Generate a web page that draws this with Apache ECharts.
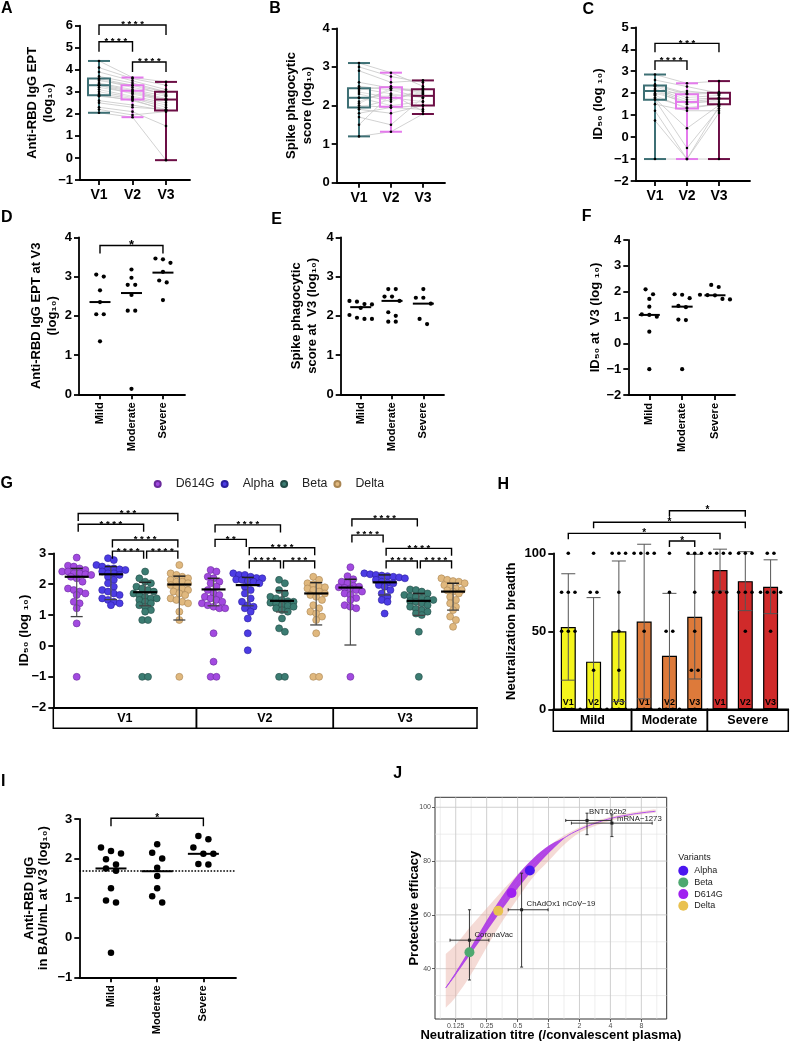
<!DOCTYPE html>
<html><head><meta charset="utf-8">
<script src="https://cdn.jsdelivr.net/npm/echarts@6/dist/echarts.min.js"></script>
<style>html,body{margin:0;padding:0;background:#fff}#c{width:790px;height:1041px}</style>
</head><body><div id="c"></div>
<script>
const FONT = '"Liberation Sans", Arial, Helvetica, sans-serif';
const f = (w, s) => w + ' ' + s + 'px ' + FONT;

// ================= DATA =================
const visitLabels = ['V1', 'V2', 'V3'];
const severityLabels = ['Mild', 'Moderate', 'Severe'];

// A: anti-RBD IgG EPT (log10), paired subjects
const rbdV1 = [4.4,4.1,3.9,3.7,3.6,3.55,3.5,3.4,3.35,3.3,3.3,3.2,3.1,3.0,2.9,2.85,2.8,2.6,2.5,2.3,2.2,2.05];
const rbdV2 = [3.65,3.6,3.5,3.4,3.3,3.2,3.3,3.1,3.05,3.0,2.9,2.95,2.8,2.75,2.7,2.6,2.65,2.4,2.3,2.1,1.95,1.85];
const rbdV3 = [3.45,3.3,3.1,3.0,3.0,2.9,2.85,2.8,2.7,2.65,2.6,2.65,2.5,2.4,2.3,2.2,2.15,2.15,2.2,1.45,2.1,-0.1];
const rbdBox = [[2.05,2.85,3.3,3.6,4.4],[1.85,2.65,3.05,3.3,3.65],[-0.1,2.15,2.65,3.0,3.45]]; // min,q1,med,q3,max
const rbdSigPairs = [[1,3],[1,2],[2,3]];
const rbdSigText = ['****','****','****'];

// B: spike phagocytic score (log10)
const phV1 = [3.1,3.0,2.9,2.6,2.5,2.45,2.4,2.35,2.3,2.2,2.2,2.1,2.0,1.95,1.9,1.8,1.7,1.5,1.2,2.05];
const phV2 = [2.85,2.75,2.6,2.45,2.4,2.3,2.5,2.2,2.1,2.25,2.0,2.4,1.95,2.15,1.8,1.95,1.5,2.3,1.32,2.45];
const phV3 = [2.5,2.6,2.65,2.35,2.4,2.2,2.3,2.1,2.45,2.3,2.1,2.2,2.0,2.35,2.0,1.9,2.2,1.85,1.78,2.4];
const phBox = [[1.2,1.95,2.2,2.45,3.1],[1.32,1.97,2.2,2.47,2.85],[1.78,2.0,2.25,2.42,2.65]];

// C: ID50 (log10)
const idV1 = [2.85,2.6,2.4,2.35,2.3,2.2,2.15,2.1,2.0,1.9,1.8,1.75,1.7,1.5,1.2,0.75,-1,1.95];
const idV2 = [2.45,2.3,2.0,1.95,1.8,1.7,1.6,1.5,1.6,1.3,1.35,0.4,-0.5,1.2,-1,-1,-1,2.1];
const idV3 = [2.55,2.0,2.05,2.0,1.9,1.8,1.75,1.7,1.6,1.5,1.5,1.45,1.3,1.2,1.1,1.4,-1,1.95];
const idBox = [[-1,1.7,2.1,2.35,2.85],[-1,1.3,1.6,1.95,2.45],[-1,1.5,1.75,2.02,2.55]];
const idSigPairs = [[1,3],[1,2]];
const idSigText = ['***','****'];

// D: anti-RBD IgG EPT at V3 by severity
const dMild = [3.05,3.0,2.65,2.35,2.04,2.04,1.35];
const dModerate = [3.18,2.97,2.79,2.79,2.53,2.13,2.13,0.14];
const dSevere = [3.46,3.44,3.35,3.12,2.9,2.85,2.4];
const dMedian = [2.35,2.58,3.1];
const dSigPairs = [[1,3]];
const dSigText = ['*'];

// E: spike phagocytic score at V3
const eMild = [2.38,2.36,2.3,2.29,2.2,2.02,1.95,1.92,1.92];
const eModerate = [2.68,2.68,2.49,2.49,2.38,2.09,2.0,1.85,1.85];
const eSevere = [2.68,2.46,2.46,2.31,1.92,1.79];
const eMedian = [2.22,2.38,2.31];

// F: ID50 at V3
const fMild = [2.09,1.9,1.72,1.42,1.12,1.1,1.03,0.45,-1];
const fModerate = [1.9,1.88,1.75,1.45,1.4,0.92,0.9,-1];
const fSevere = [2.26,2.18,1.88,1.87,1.86,1.72,1.7];
const fMedian = [1.1,1.42,1.86];

// G: ID50 per variant per visit  ([V1],[V2],[V3])
const gVariants = ['D614G','Alpha','Beta','Delta'];
const gD614G = [
 [2.86,2.6,2.57,2.51,2.46,2.41,2.41,2.35,2.35,2.32,2.3,2.24,2.19,2.08,1.86,1.81,1.76,1.7,1.65,1.43,1.38,1.22,0.73,-1],
 [2.46,2.41,2.24,2.19,2.08,2.03,1.92,1.81,1.7,1.65,1.59,1.54,1.49,1.43,1.38,1.32,1.27,1.22,1.22,0.41,-0.51,-1,-1],
 [2.55,2.26,2.16,2.08,2.03,1.95,1.92,1.9,1.88,1.86,1.81,1.76,1.7,1.65,1.55,1.49,1.32,1.27,1.22,-1]];
const gAlpha = [
 [2.84,2.78,2.62,2.57,2.51,2.51,2.48,2.46,2.41,2.35,2.35,2.3,2.24,2.14,2.03,1.92,1.81,1.76,1.7,1.65,1.54,1.49,1.43,1.38,1.32],
 [2.35,2.3,2.3,2.24,2.2,2.19,2.15,2.14,2.1,2.08,2.03,1.92,1.81,1.7,1.54,1.43,1.32,1.27,1.22,1.11,0.89,0.41,-0.14],
 [2.35,2.32,2.3,2.28,2.26,2.24,2.22,2.19,2.14,2.08,2.05,2.03,1.97,1.92,1.81,1.7,1.59,1.49,1.43,1.05]];
const gBeta = [
 [2.41,2.19,2.08,2.03,1.92,1.86,1.81,1.76,1.7,1.65,1.59,1.54,1.54,1.49,1.43,1.38,1.32,1.27,1.16,1.11,0.84,0.84,-1,-1],
 [2.14,2.03,1.81,1.7,1.59,1.54,1.49,1.45,1.43,1.4,1.38,1.32,1.3,1.27,1.22,1.16,1.11,0.89,0.57,0.46,-1,-1],
 [1.83,1.81,1.76,1.7,1.65,1.6,1.59,1.54,1.5,1.49,1.45,1.43,1.38,1.32,1.27,1.2,1.16,1.11,1.05,1.0,0.46,-1]];
const gDelta = [
 [2.62,2.35,2.3,2.24,2.19,2.14,2.08,2.08,2.03,1.97,1.92,1.86,1.81,1.76,1.7,1.65,1.54,1.49,1.43,1.38,1.11,0.84,-1],
 [2.24,2.14,2.03,2.0,1.92,1.9,1.86,1.81,1.76,1.7,1.65,1.59,1.49,1.32,1.22,1.11,1.05,0.95,0.84,0.41,-1,-1],
 [2.19,2.14,2.1,2.08,2.03,1.97,1.92,1.86,1.81,1.8,1.76,1.7,1.59,1.49,1.38,1.27,1.16,0.95,0.84,0.62]];
// per group (V1:D614G,Alpha,Beta,Delta, V2:..., V3:...)
const gMedian = [2.24,2.32,1.74,1.99, 1.83,1.97,1.46,1.7, 1.89,2.06,1.46,1.76];
const gLow    = [0.95,1.5,1.3,0.84, 1.3,1.3,1.1,0.68, 0.03,1.65,0.99,1.16];
const gHigh   = [2.51,2.57,2.06,2.26, 2.19,2.22,1.79,2.05, 2.16,2.3,1.7,2.03];
const gSigPairs = [[0,3],[0,2],[1,3],[1,2],[2,3], [4,6],[4,5],[5,7],[5,6],[6,7], [8,10],[8,9],[9,11],[9,10],[10,11]];
const gSigText  = ['***','****','****','****','****', '****','**','****','****','***', '****','****','****','****','****'];

// H: neutralization breadth per participant (Mild V1..V3, Moderate V1..V3, Severe V1..V3)
const hMildV1 = [100,75,75,75,50,50,50,0,0];
const hMildV2 = [100,75,75,25,0,0,0,0,0];
const hMildV3 = [100,100,100,75,50,25,0,0,0];
const hModV1 = [100,100,100,100,50,0,0,0];
const hModV2 = [100,75,50,50,0,0,0,0];
const hModV3 = [100,100,100,75,50,25,25,0];
const hSevV1 = [100,100,100,100,75,75,75];
const hSevV2 = [100,100,100,75,75,75,50];
const hSevV3 = [100,100,75,75,75,75,50];
const hSigPairs = [[0,6],[1,7],[4,7],[4,5]];
const hSigText = ['*','*','*','*'];

// I: anti-RBD IgG BAU/mL at V3 (log10)
const iMild = [2.28,2.19,2.13,1.98,1.85,1.75,1.69,1.25,0.94,0.89,-0.38];
const iModerate = [2.36,2.15,2.0,1.77,1.56,1.25,1.05,0.89];
const iSevere = [2.57,2.49,2.28,2.12,2.12,1.86,1.85];
const iMedian = [1.75,1.68,2.12];
const iThreshold = 1.7;
const iSigPairs = [[1,3]];
const iSigText = ['*'];

// J: protective efficacy vs neutralization titre
const jVariants = ['Alpha','Beta','D614G','Delta'];
const jVarTitre = [0.658,0.17,0.437,0.324];
const jVarEff = [76.5,46.1,68.1,61.5];
const jVaccines = ['BNT162b2','mRNA\u22121273','ChAdOx1 nCoV\u221219','CoronaVac'];
const jVacTitre = [2.37,4.14,0.547,0.17];
const jVacTitreLo = [1.47,1.67,0.405,0.11];
const jVacTitreHi = [4.08,10.2,0.99,0.263];
const jVacEff = [95.1,94.1,61.9,50.6];
const jVacEffLo = [89.8,89.1,40.6,35.8];
const jVacEffHi = [97.8,97.2,75.5,61.9];
const jCurveTitre = [0.1,0.125,0.177,0.25,0.354,0.5,0.707,1,1.41,2,2.83,4,5.66,8,11];
const jCurveEff   = [32.9,38.2,47.0,55.9,64.5,72.3,78.9,84.3,88.5,91.7,94.0,95.8,97.0,97.9,98.5];
const jCiUpper    = [45.5,49,56,62.5,69,75,80.5,85.5,89.5,92.5,94.7,96.5,97.7,98.6,99.3];
const jCiLower    = [25.5,29.5,38,48,57.5,66,74,80,86,90.5,93,95,96.4,97.3,98.0];
const jBandTitre  = [0.1,0.125,0.177,0.25,0.354,0.5,0.707,1,1.41];
const jBandUpper  = [33.1,38.7,48.2,57.9,66.9,74.8,81.0,85.7,88.7];
const jBandLower  = [32.7,37.7,45.8,53.9,62.1,69.8,76.8,82.9,88.3];
const jTickTitre  = [0.125,0.25,0.5,1,2,4,8];
const jTickEff    = [40,60,80,100];

// ================= STYLE / LAYOUT =================
const boxColors = ['#3d6f74','#e47aec','#6c0e45'];
const gColors  = ['#a24ae0','#4c3ce4','#3b7c72','#e0b87e'];
const gBorders = ['#6a2a9c','#2b1f9e','#234c46','#a98552'];
const hColors  = ['#f4f41c','#dd7a3a','#d02a2a'];
const jColors  = ['#4b16f0','#4ea870','#a020f0','#e9c14f'];

const gridPos = [
 {left:80, top:25.7, width:110, height:154.3},     // A
 {left:336.7, top:28.3, width:108.3, height:154.4},// B
 {left:635.7, top:27.3, width:114.3, height:153.7},// C
 {left:79, top:237.3, width:106, height:157},      // D
 {left:340.7, top:237.3, width:103.3, height:157}, // E
 {left:628.3, top:240, width:106.7, height:155},   // F
 {left:53.3, top:553.3, width:423.7, height:154.4},// G
 {left:553.3, top:553.3, width:235, height:156},   // H
 {left:79.3, top:819, width:156.7, height:158.3},  // I
 {left:435, top:797.3, width:231.7, height:221.7}  // J
];
const xr = [[0.433,3.716],[0.303,3.69],[0.397,3.97],[0.333,3.70],[0.361,3.66],[0.36,3.61],[-0.684,11.70],[-0.593,8.70],[0.314,3.706],[-3.67,3.82]];
const yr = [[-1,6],[0,4],[-2,5],[0,4],[0,4],[-2,4],[-2,3],[0,100],[-1,3],[21.3,103.7]];

const grids = gridPos.map((g, i) => Object.assign({outerBoundsMode:'none', containLabel:false, show:i===9,
  borderColor:'#333', borderWidth:1, backgroundColor:'#fff'}, g));

const negFmt = v => v < 0 ? '\u2212' + Math.abs(v) : String(v);
const axLine = w => ({show:true, onZero:false, lineStyle:{color:'#000', width:w}});
const nameStyle = (fs, lh) => ({color:'#000', fontFamily:FONT, fontWeight:'bold', fontSize:fs, lineHeight:lh});

function makeY(gi, interval, name, nameGap, o) {
  o = o || {};
  return {type:'value', gridIndex:gi, min:yr[gi][0], max:yr[gi][1], interval:interval,
    axisLine:axLine(1.8),
    axisTick:{show:true, length:5, lineStyle:{color:'#000', width:1.8}},
    axisLabel:{color:'#000', fontFamily:FONT, fontWeight:'bold', fontSize:o.fs || 13, margin:o.margin || 7, formatter:negFmt},
    splitLine:{show:false},
    name:name, nameLocation:'middle', nameGap:nameGap, nameRotate:90, nameMoveOverlap:false,
    nameTextStyle:nameStyle(o.nfs || 13, o.lh || 16)};
}
function makeXCat(gi, labels, o) {
  o = o || {};
  const tv = labels.map((_, i) => i + 1);
  return {type:'value', gridIndex:gi, min:xr[gi][0], max:xr[gi][1],
    axisLine:axLine(1.8),
    axisTick:{show:true, length:5, customValues:tv, lineStyle:{color:'#000', width:1.8}},
    axisLabel:{customValues:tv, formatter:v => labels[Math.round(v) - 1] || '', color:'#000', fontFamily:FONT,
      fontWeight:'bold', fontSize:o.fs || 14, margin:o.margin || 8, rotate:o.rotate || 0},
    splitLine:{show:false}};
}
function makeXPlain(gi) {
  return {type:'value', gridIndex:gi, min:xr[gi][0], max:xr[gi][1], axisLine:axLine(1.8),
    axisTick:{show:false}, axisLabel:{show:false}, splitLine:{show:false}};
}

const xAxes = [
  makeXCat(0, visitLabels), makeXCat(1, visitLabels), makeXCat(2, visitLabels),
  makeXCat(3, severityLabels, {rotate:90, fs:11, margin:8}),
  makeXCat(4, severityLabels, {rotate:90, fs:11, margin:8}),
  makeXCat(5, severityLabels, {rotate:90, fs:11, margin:8}),
  makeXPlain(6), makeXPlain(7),
  makeXCat(8, severityLabels, {rotate:90, fs:11, margin:8}),
  {type:'value', gridIndex:9, min:xr[9][0], max:xr[9][1], axisLine:{show:false, onZero:false},
    axisTick:{show:true, length:3, customValues:jTickTitre.map(Math.log2), lineStyle:{color:'#333', width:0.8}},
    axisLabel:{customValues:jTickTitre.map(Math.log2), formatter:v => String(+Math.pow(2, v).toFixed(3)),
      fontSize:7, color:'#4d4d4d', fontFamily:FONT, margin:4},
    splitLine:{show:false},
    name:'Neutralization titre (/convalescent plasma)', nameLocation:'middle', nameGap:9, nameMoveOverlap:false,
    nameTextStyle:nameStyle(13, 15)}
];
const yAxes = [
  makeY(0, 1, 'Anti-RBD IgG EPT\n(log\u2081\u2080)', 24),
  makeY(1, 1, 'Spike phagocytic\nscore (log\u2081\u2080)', 21),
  makeY(2, 1, 'ID\u2085\u2080 (log \u2081\u2080)', 29),
  makeY(3, 1, 'Anti-RBD IgG EPT at V3\n(log\u2081\u2080)', 19),
  makeY(4, 1, 'Spike phagocytic\nscore at  V3 (log\u2081\u2080)', 20),
  makeY(5, 1, 'ID\u2085\u2080 at  V3 (log \u2081\u2080)', 25),
  makeY(6, 1, 'ID\u2085\u2080 (log \u2081\u2080)', 21),
  makeY(7, 50, 'Neutralization breadth', 34),
  makeY(8, 1, 'Anti-RBD IgG\nin BAU/mL at V3 (log\u2081\u2080)', 29, {lh:14}),
  {type:'value', gridIndex:9, min:yr[9][0], max:yr[9][1], axisLine:{show:false, onZero:false},
    axisTick:{show:true, length:3, customValues:jTickEff, lineStyle:{color:'#333', width:0.8}},
    axisLabel:{customValues:jTickEff, fontSize:7, color:'#4d4d4d', fontFamily:FONT, margin:4},
    splitLine:{show:false},
    name:'Protective efficacy', nameLocation:'middle', nameGap:13.5, nameRotate:90, nameMoveOverlap:false,
    nameTextStyle:nameStyle(13, 15)}
];

// ================= HELPERS =================
function txt(x, y, text, font, align, va, fill) {
  return {type:'text', x:x, y:y, style:{text:text, font:font, fill:fill || '#000',
    align:align, verticalAlign:va, textAlign:align, textVerticalAlign:va}};
}
function seg(x1, y1, x2, y2, stroke, lw) {
  return {type:'line', shape:{x1:x1, y1:y1, x2:x2, y2:y2}, style:{stroke:stroke, lineWidth:lw}};
}
function pxPer(gi) {
  return {y: gridPos[gi].height / (yr[gi][1] - yr[gi][0]), x: gridPos[gi].width / (xr[gi][1] - xr[gi][0])};
}
// dot-plot arrangement: points within thr px vertically share a row, rows centred
function swarm(vals, gi, thr, gap) {
  const p = pxPer(gi);
  const idx = vals.map((v, i) => i).sort((a, b) => vals[b] - vals[a]);
  const off = vals.map(() => 0);
  let row = [], start = null;
  const flush = () => { row.forEach((i, k) => { off[i] = (k - (row.length - 1) / 2) * gap / p.x; }); row = []; };
  idx.forEach(i => {
    if (row.length && (vals[start] - vals[i]) * p.y >= thr) flush();
    if (!row.length) start = i;
    row.push(i);
  });
  flush();
  return off;
}
function swarmData(groups, gi, thr, gap, xOf) {
  const out = [];
  groups.forEach((vals, g) => {
    const off = swarm(vals, gi, thr, gap);
    vals.forEach((v, k) => out.push([xOf(g) + off[k], v]));
  });
  return out;
}
function dots(gi, data, size, color, extra) {
  return Object.assign({type:'scatter', xAxisIndex:gi, yAxisIndex:gi, data:data, symbolSize:size, clip:false,
    itemStyle:{color:color, opacity:1}, z:4, silent:true}, extra || {});
}
function pairedSeries(gi, a, b, c) {
  return {type:'custom', xAxisIndex:gi, yAxisIndex:gi, z:1, silent:true,
    data:a.map((v, i) => [a[i], b[i], c[i]]),
    renderItem:(params, api) => ({type:'polyline',
      shape:{points:[0, 1, 2].map(k => api.coord([k + 1, api.value(k)]))},
      style:{stroke:'#c6c6c6', lineWidth:0.8, fill:'none'}})};
}
function boxSeries(gi, boxes, halfW) {
  return {type:'custom', xAxisIndex:gi, yAxisIndex:gi, z:2, silent:true,
    data:boxes.map((b, i) => [i + 1].concat(b)),
    renderItem:(params, api) => {
      const x = api.value(0), c = boxColors[params.dataIndex];
      const Y = k => api.coord([x, api.value(k)])[1];
      const cx = api.coord([x, 0])[0];
      const yMin = Y(1), yQ1 = Y(2), yMed = Y(3), yQ3 = Y(4), yMax = Y(5), lw = 2;
      return {type:'group', children:[
        seg(cx, yMin, cx, yMax, c, lw),
        seg(cx - halfW, yMin, cx + halfW, yMin, c, lw),
        seg(cx - halfW, yMax, cx + halfW, yMax, c, lw),
        {type:'rect', shape:{x:cx - halfW, y:yQ3, width:2 * halfW, height:yQ1 - yQ3},
          style:{fill:'rgba(255,255,255,0.3)', stroke:c, lineWidth:lw}},
        seg(cx - halfW, yMed, cx + halfW, yMed, c, lw)
      ]};
    }};
}
function bracketSeries(gi, pairs, levels, labels, drop, fs, inset) {
  return {type:'custom', xAxisIndex:gi, yAxisIndex:gi, z:6, silent:true,
    data:pairs.map((p, i) => [p[0], p[1], levels[i]]),
    renderItem:(params, api) => {
      const a = api.coord([api.value(0), api.value(2)]);
      const b = api.coord([api.value(1), api.value(2)]);
      const x1 = a[0] + inset, x2 = b[0] - inset, y = a[1];
      const lab = labels[params.dataIndex].split('').join(' ');
      return {type:'group', children:[
        {type:'polyline', shape:{points:[[x1, y + drop], [x1, y], [x2, y], [x2, y + drop]]},
          style:{stroke:'#000', lineWidth:1.4, fill:'none'}},
        txt((x1 + x2) / 2, y + fs * 0.5, lab, f('bold', fs), 'center', 'bottom')
      ]};
    }};
}
function medianSeries(gi, meds, halfW, lw) {
  return {type:'custom', xAxisIndex:gi, yAxisIndex:gi, z:5, silent:true,
    data:meds.map((m, i) => [i + 1, m]),
    renderItem:(params, api) => {
      const c = api.coord([api.value(0), api.value(1)]);
      return seg(c[0] - halfW, c[1], c[0] + halfW, c[1], '#000', lw);
    }};
}
function tableSeries(gi, spans, labels, h, fs) {
  return {type:'custom', xAxisIndex:gi, yAxisIndex:gi, z:6, silent:true,
    data:spans,
    renderItem:(params, api) => {
      const y0 = yr[gi][0];
      const a = api.coord([api.value(0), y0]), b = api.coord([api.value(1), y0]);
      return {type:'group', children:[
        {type:'rect', shape:{x:a[0], y:a[1], width:b[0] - a[0], height:h}, style:{fill:'none', stroke:'#000', lineWidth:1.5}},
        txt((a[0] + b[0]) / 2, a[1] + h / 2 + 0.5, labels[params.dataIndex], f('bold', fs), 'center', 'middle')
      ]};
    }};
}
// Catmull-Rom smoothing of a polyline into cubic bezier path commands (rendering only)
function smoothPath(pts) {
  let d = '';
  for (let i = 0; i < pts.length - 1; i++) {
    const p0 = pts[i - 1] || pts[i], p1 = pts[i], p2 = pts[i + 1], p3 = pts[i + 2] || pts[i + 1];
    const c1 = [p1[0] + (p2[0] - p0[0]) / 6, p1[1] + (p2[1] - p0[1]) / 6];
    const c2 = [p2[0] - (p3[0] - p1[0]) / 6, p2[1] - (p3[1] - p1[1]) / 6];
    d += ' C' + c1[0] + ' ' + c1[1] + ' ' + c2[0] + ' ' + c2[1] + ' ' + p2[0] + ' ' + p2[1];
  }
  return d;
}
function bandSeries(gi, titres, upper, lower, fill, z) {
  return {type:'custom', xAxisIndex:gi, yAxisIndex:gi, z:z, silent:true, clip:true,
    data:[[Math.log2(titres[0]), lower[0]]],
    renderItem:(params, api) => {
      const up = titres.map((t, i) => api.coord([Math.log2(t), upper[i]]));
      const lo = titres.map((t, i) => api.coord([Math.log2(t), lower[i]])).reverse();
      const d = 'M' + up[0][0] + ' ' + up[0][1] + smoothPath(up) + ' L' + lo[0][0] + ' ' + lo[0][1] + smoothPath(lo) + ' Z';
      return {type:'path', shape:{pathData:d}, style:{fill:fill, stroke:null}};
    }};
}

// ================= SERIES =================
const series = [];
// A, B, C
[[0, rbdV1, rbdV2, rbdV3, rbdBox], [1, phV1, phV2, phV3, phBox], [2, idV1, idV2, idV3, idBox]].forEach(s => {
  const gi = s[0];
  series.push(pairedSeries(gi, s[1], s[2], s[3]));
  series.push(boxSeries(gi, s[4], 11));
  series.push(dots(gi, [].concat(s[1].map(v => [1, v]), s[2].map(v => [2, v]), s[3].map(v => [3, v])), 2.6, '#000'));
});
series.push(bracketSeries(0, rbdSigPairs, [6.03, 5.27, 4.35], rbdSigText, 10, 9.5, 0));
series.push(bracketSeries(2, idSigPairs, [4.27, 3.47], idSigText, 9, 9.5, 0));

// D, E, F
[[3, [dMild, dModerate, dSevere], dMedian], [4, [eMild, eModerate, eSevere], eMedian], [5, [fMild, fModerate, fSevere], fMedian]].forEach(s => {
  series.push(dots(s[0], swarmData(s[1], s[0], 6, 7.5, g => g + 1), 4.2, '#000'));
  series.push(medianSeries(s[0], s[2], 10.5, 2));
});
series.push(bracketSeries(3, dSigPairs, [3.79], dSigText, 8, 13, 0));

// G
const gAll = [gD614G, gAlpha, gBeta, gDelta];
gVariants.forEach((name, v) => {
  const data = [];
  [0, 1, 2].forEach(vis => {
    const vals = gAll[v][vis];
    const off = swarm(vals, 6, 5.2, 5.8);
    vals.forEach((val, k) => data.push([vis * 4 + v + off[k], val]));
  });
  series.push({type:'scatter', name:name, xAxisIndex:6, yAxisIndex:6, data:data, symbolSize:7, clip:false, z:3, silent:true,
    itemStyle:{color:gColors[v], borderColor:gBorders[v], borderWidth:0.6, opacity:1}});
});
series.push({type:'custom', xAxisIndex:6, yAxisIndex:6, z:5, silent:true,
  data:gMedian.map((m, i) => [i, m, gLow[i], gHigh[i]]),
  renderItem:(params, api) => {
    const x = api.value(0);
    const c = api.coord([x, api.value(1)]), lo = api.coord([x, api.value(2)]), hi = api.coord([x, api.value(3)]);
    return {type:'group', children:[
      seg(c[0], lo[1], c[0], hi[1], '#555', 1.2),
      seg(c[0] - 6, lo[1], c[0] + 6, lo[1], '#444', 1.3),
      seg(c[0] - 6, hi[1], c[0] + 6, hi[1], '#222', 1.5),
      seg(c[0] - 12, c[1], c[0] + 12, c[1], '#000', 2.2)
    ]};
  }});
series.push(bracketSeries(6, gSigPairs,
  [4.29, 3.94, 3.43, 3.07, 3.07, 3.92, 3.45, 3.18, 2.75, 2.75, 4.11, 3.59, 3.16, 2.75, 2.75],
  gSigText, 7.5, 9.5, 1.5));
series.push(tableSeries(6, [[xr[6][0], 3.5], [3.5, 7.5], [7.5, xr[6][1]]], visitLabels, 20.5, 12.5));

// H
const hDots = [hMildV1, hMildV2, hMildV3, hModV1, hModV2, hModV3, hSevV1, hSevV2, hSevV3];
const hMeans = hDots.map(a => a.reduce((s, v) => s + v, 0) / a.length);
const hSD = hDots.map((a, i) => Math.sqrt(a.reduce((s, v) => s + (v - hMeans[i]) * (v - hMeans[i]), 0) / (a.length - 1)));
series.push({type:'bar', xAxisIndex:7, yAxisIndex:7, barWidth:15, z:2, silent:true,
  data:hMeans.map((m, i) => ({value:[i, m], itemStyle:{color:hColors[Math.floor(i / 3)], borderColor:'#000', borderWidth:1.2}})),
  label:{show:true, position:'insideBottom', distance:2, formatter:p => visitLabels[p.dataIndex % 3],
    fontFamily:FONT, fontWeight:'bold', fontSize:9, color:'#000'}});
series.push({type:'custom', xAxisIndex:7, yAxisIndex:7, z:4, silent:true,
  data:hMeans.map((m, i) => [i, m, hSD[i]]),
  renderItem:(params, api) => {
    const x = api.value(0), m = api.value(1), s = api.value(2);
    const top = api.coord([x, m + s]), bot = api.coord([x, Math.max(0, m - s)]);
    const ch = [seg(top[0], top[1], bot[0], bot[1], '#555', 1), seg(top[0] - 7, top[1], top[0] + 7, top[1], '#555', 1)];
    if (m - s > 0) ch.push(seg(bot[0] - 7, bot[1], bot[0] + 7, bot[1], '#555', 1));
    return {type:'group', children:ch};
  }});
series.push(dots(7, swarmData(hDots, 7, 1, 6.7, g => g), 3.6, '#000', {z:5}));
series.push(bracketSeries(7, hSigPairs, [112.8, 119.9, 127.3, 107.9], hSigText, 6, 10, 0));
series.push(tableSeries(7, [[xr[7][0], 2.5], [2.5, 5.5], [5.5, xr[7][1]]], severityLabels, 22, 12.5));

// I
series.push(dots(8, swarmData([iMild, iModerate, iSevere], 8, 7, 10, g => g + 1), 6.5, '#000', {
  markLine:{silent:true, symbol:'none', label:{show:false}, animation:false,
    lineStyle:{type:'dotted', color:'#000', width:1.6}, data:[{yAxis:iThreshold}]}}));
series.push(medianSeries(8, iMedian, 15.5, 2));
series.push(bracketSeries(8, iSigPairs, [3.02], iSigText, 8, 10, 0));

// J
const jMajX = jTickTitre.map(Math.log2);
const jMinX = jTickTitre.map(t => Math.log2(t) - 0.5).concat([Math.log2(8) + 0.5]);
const jMinY = [30, 50, 70, 90];
series.push({type:'custom', xAxisIndex:9, yAxisIndex:9, z:0, silent:true,
  data:[].concat(jMinX.map(v => [0, v, 0]), jMinY.map(v => [1, v, 0]), jMajX.map(v => [0, v, 1]), jTickEff.map(v => [1, v, 1])),
  renderItem:(params, api) => {
    const cs = params.coordSys, d = api.value(0), v = api.value(1), major = api.value(2);
    const st = major ? '#c9c9c9' : '#e0e0e0', lw = major ? 0.9 : 0.6;
    if (d === 0) { const x = api.coord([v, 50])[0]; return seg(x, cs.y, x, cs.y + cs.height, st, lw); }
    const y = api.coord([0, v])[1]; return seg(cs.x, y, cs.x + cs.width, y, st, lw);
  }});
const L2 = Math.log2;
series.push(bandSeries(9, jCurveTitre, jCiUpper, jCiLower, 'rgba(232,170,158,0.42)', 1));
series.push(bandSeries(9, jBandTitre, jBandUpper, jBandLower, 'rgba(172,56,228,0.92)', 2));
series.push({type:'line', xAxisIndex:9, yAxisIndex:9, smooth:true, symbol:'none', z:3, silent:true,
  lineStyle:{color:'#b14cf0', width:1}, data:jCurveTitre.map((t, i) => [L2(t), jCurveEff[i]])});
const jLabelOffset = [[2, -9], [5, -4], [5, -6], [5, -5]];
series.push({type:'custom', xAxisIndex:9, yAxisIndex:9, z:4, silent:true,
  data:jVaccines.map((n, i) => [L2(jVacTitre[i]), jVacEff[i], L2(jVacTitreLo[i]), L2(jVacTitreHi[i]), jVacEffLo[i], jVacEffHi[i]]),
  renderItem:(params, api) => {
    const i = params.dataIndex;
    const c = api.coord([api.value(0), api.value(1)]);
    const xl = api.coord([api.value(2), api.value(1)])[0], xh = api.coord([api.value(3), api.value(1)])[0];
    const yl = api.coord([api.value(0), api.value(4)])[1], yh = api.coord([api.value(0), api.value(5)])[1];
    const k = '#222', w = 0.9;
    return {type:'group', children:[
      seg(xl, c[1], xh, c[1], k, w), seg(c[0], yl, c[0], yh, k, w),
      seg(xl, c[1] - 1.5, xl, c[1] + 1.5, k, w), seg(xh, c[1] - 1.5, xh, c[1] + 1.5, k, w),
      seg(c[0] - 1.5, yl, c[0] + 1.5, yl, k, w), seg(c[0] - 1.5, yh, c[0] + 1.5, yh, k, w),
      {type:'rect', shape:{x:c[0] - 1.5, y:c[1] - 1.5, width:3, height:3}, style:{fill:'#222'}},
      txt(c[0] + jLabelOffset[i][0], c[1] + jLabelOffset[i][1], jVaccines[i], f('normal', 7.8), 'left', 'middle', '#222')
    ]};
  }});
jVariants.forEach((n, i) => {
  series.push({type:'scatter', name:'J-' + n, xAxisIndex:9, yAxisIndex:9, symbolSize:10, z:6, silent:true,
    itemStyle:{color:jColors[i], opacity:1}, data:[[L2(jVarTitre[i]), jVarEff[i]]]});
});

// ================= GRAPHIC (panel letters) =================
const letters = [['A',6.7,8.3],['B',275,8.3],['C',588.3,10],['D',6.7,218],['E',276.7,220],['F',586.7,216.7],
  ['G',6.7,483.3],['H',503.3,485],['I',3.3,781.7],['J',397.7,773.3]];
const graphic = letters.map(l => ({type:'text', x:l[1], y:l[2], silent:true,
  style:{text:l[0], font:f('bold', 16), fill:'#000', align:'center', verticalAlign:'middle', textAlign:'center', textVerticalAlign:'middle'}}));
graphic.push({type:'text', x:678.3, y:857.3, silent:true,
  style:{text:'Variants', font:f('normal', 9), fill:'#222', align:'left', verticalAlign:'middle', textAlign:'left', textVerticalAlign:'middle'}});

const option = {
  animation:false,
  backgroundColor:'#fff',
  textStyle:{fontFamily:FONT},
  grid:grids,
  xAxis:xAxes,
  yAxis:yAxes,
  legend:[
    {left:153.7, top:478, padding:0, itemWidth:26, itemHeight:6, itemGap:6, icon:'circle', selectedMode:false,
      data:gVariants, textStyle:{fontFamily:FONT, fontSize:12.3, color:'#222'}},
    {orient:'vertical', left:678.3, top:865.7, padding:0, itemWidth:12, itemHeight:10, itemGap:1.7, icon:'circle',
      selectedMode:false, data:jVariants.map(n => 'J-' + n), formatter:n => n.slice(2),
      textStyle:{fontFamily:FONT, fontSize:9, color:'#222', lineHeight:10}}
  ],
  graphic:graphic,
  series:series
};
const chart = echarts.init(document.getElementById('c'), null, {renderer:'canvas'});
chart.setOption(option);
</script>
</body></html>
